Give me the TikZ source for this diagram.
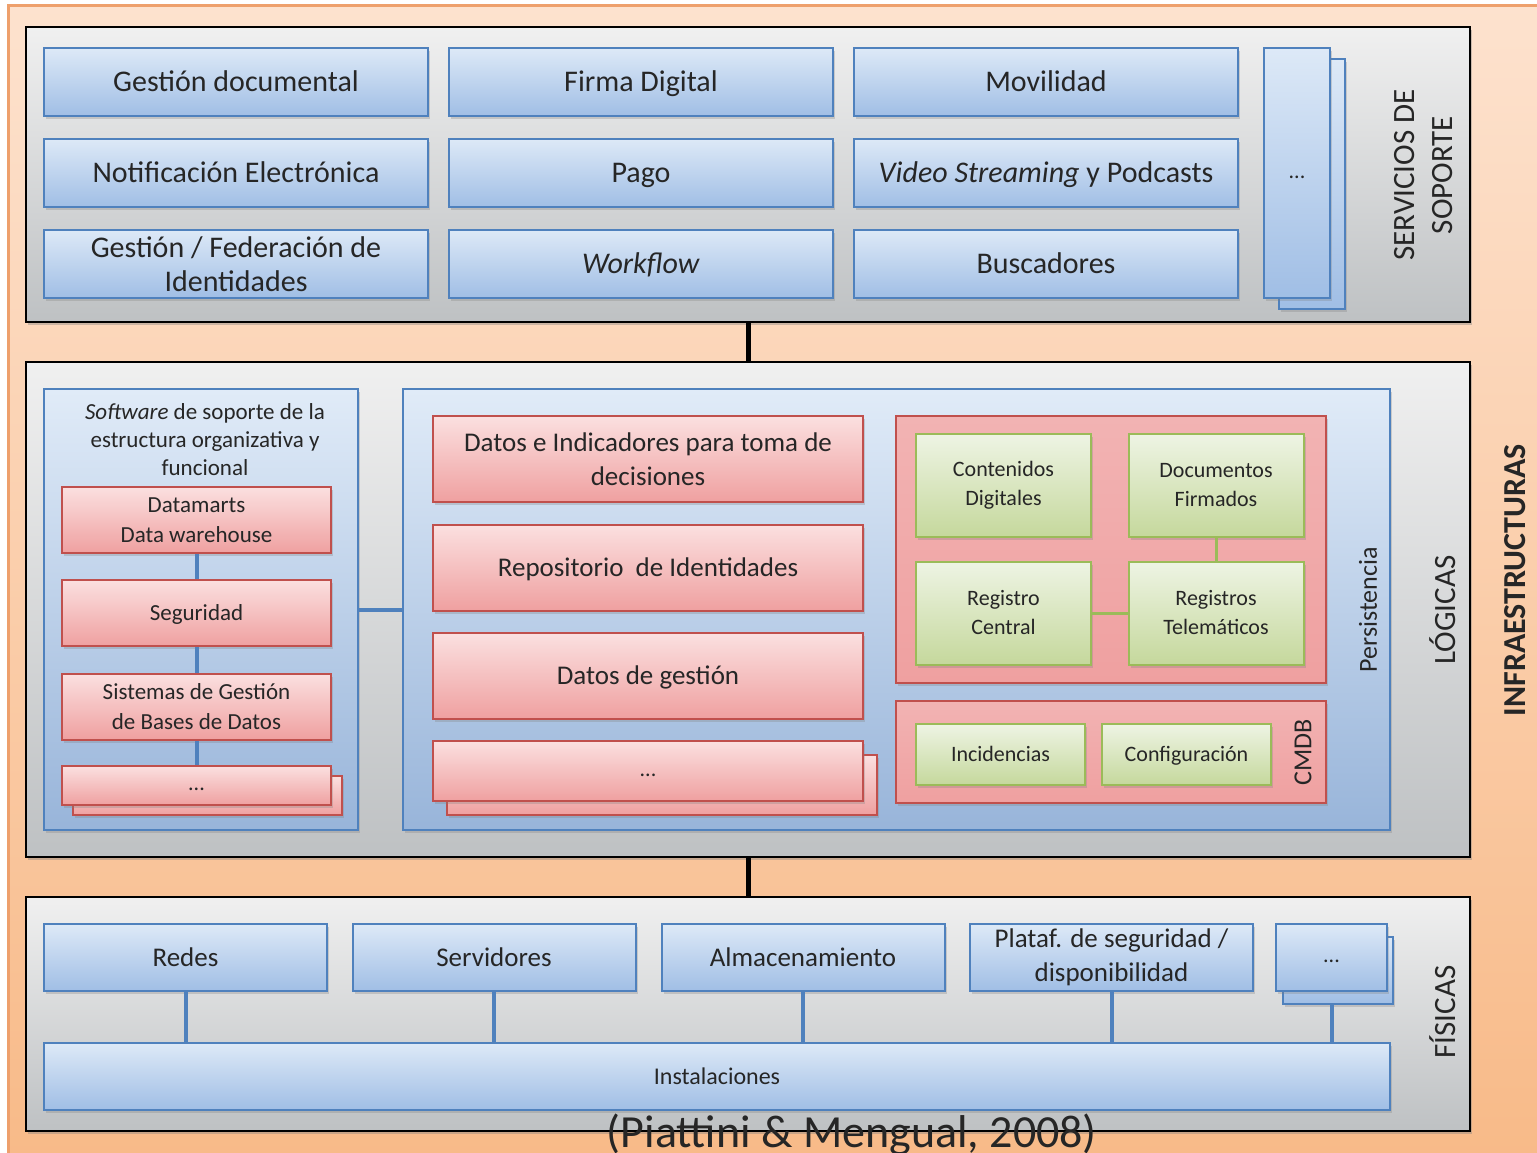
\documentclass[tikz,border=0pt]{standalone}
\usepackage{fontspec}
\setmainfont{Carlito}
\usepackage{tikz}
\usetikzlibrary{positioning, shadows, backgrounds}

\definecolor{orangetop}{RGB}{253,226,206}
\definecolor{orangebot}{RGB}{248,186,136}
\definecolor{orangeline}{RGB}{238,160,108}
\definecolor{graytop}{RGB}{240,240,240}
\definecolor{graybot}{RGB}{190,193,195}
\definecolor{bluetop}{RGB}{221,233,247}
\definecolor{bluebot}{RGB}{160,190,229}
\definecolor{blueline}{RGB}{79,129,189}
\definecolor{redtop}{RGB}{251,224,224}
\definecolor{redbot}{RGB}{239,160,160}
\definecolor{redline}{RGB}{192,80,77}
\definecolor{greentop}{RGB}{238,244,228}
\definecolor{greenbot}{RGB}{197,216,156}
\definecolor{greenline}{RGB}{155,187,89}

\tikzset{
layer frame/.style = { rectangle, draw = black, line width = 1pt, top color = graytop, bottom color = graybot, inner sep = 0pt, drop shadow = {shadow xshift = 1pt, shadow yshift = -1.5pt, opacity = 0.4} },
blue box/.style = { rectangle, draw = blueline, line width = 1pt, top color = bluetop, bottom color = bluebot, align = center, text = black!85, inner sep = 2pt, font = \fontsize{15}{17}\selectfont, drop shadow = {shadow xshift = 1pt, shadow yshift = -1.5pt, opacity = 0.3} },
blue panel/.style = { rectangle, draw = blueline, line width = 1pt, top color = bluetop!90!white, bottom color = bluebot!95!black, inner sep = 0pt, drop shadow = {shadow xshift = 1pt, shadow yshift = -1.5pt, opacity = 0.3} },
red box/.style = { rectangle, draw = redline, line width = 1pt, top color = redtop, bottom color = redbot, align = center, text = black!85, inner sep = 2pt, font = \fontsize{13.5}{17}\selectfont, drop shadow = {shadow xshift = 1pt, shadow yshift = -1.5pt, opacity = 0.3} },
red panel/.style = { rectangle, draw = redline, line width = 1pt, top color = redbot!80!white, bottom color = redbot, inner sep = 0pt, drop shadow = {shadow xshift = 1pt, shadow yshift = -1.5pt, opacity = 0.3} },
green box/.style = { rectangle, draw = greenline, line width = 1pt, top color = greentop, bottom color = greenbot, align = center, text = black!85, inner sep = 2pt, font = \fontsize{11}{14.5}\selectfont, drop shadow = {shadow xshift = 1pt, shadow yshift = -1.5pt, opacity = 0.3} },
two lines/.style = { text height = {}, text depth = {} },
side label/.style = { rotate = 90, align = center, text = black!85, font = \fontsize{15.5}{19}\selectfont },
layer link/.style = { draw = black, line width = 2.5pt },
blue link/.style = { draw = blueline, line width = 2pt },
green link/.style = { draw = greenline, line width = 1.5pt },
service size/.style = { minimum width = 192pt, minimum height = 34pt, text height = 12pt, text depth = 2.5pt },
left size/.style = { minimum width = 134.5pt, minimum height = 33pt, text height = 9.2pt, text depth = 2pt, font = \fontsize{11.5}{15}\selectfont },
mid size/.style = { minimum width = 215pt, minimum height = 43pt, text height = 10.8pt, text depth = 2.3pt },
store size/.style = { minimum width = 87.5pt, minimum height = 51.5pt },
cmdb size/.style = { minimum width = 84.5pt, minimum height = 30.5pt, text height = 8.8pt, text depth = 1.9pt },
phys size/.style = { minimum width = 141.5pt, minimum height = 33.5pt, text height = 10.8pt, text depth = 2.3pt, font = \fontsize{13.5}{17}\selectfont },
dots/.style = { text height = 6pt, text depth = 1pt, font = \fontsize{11}{13}\selectfont },
}

\begin{document}
\begin{tikzpicture}[x = 0.5pt, y = -0.5pt]
    \useasboundingbox (0, 0) rectangle (1537, 1152);
    \fill[white] (0, 0) rectangle (1537, 1152);
    \path[top color = orangetop, bottom color = orangebot, draw = orangeline, line width = 1.5pt] (8, 5) rectangle (1545, 1160);
    % capas
    \node[layer frame, minimum width = 722pt, minimum height = 147.5pt] (soporte) at (748, 174.5) {};
    \node[layer frame, minimum width = 722pt, minimum height = 247.5pt] (logicas) at (748, 609.5) {};
    \node[layer frame, minimum width = 722pt, minimum height = 117pt] (fisicas) at (748, 1014) {};
    \draw[layer link] (soporte.south) -- (logicas.north);
    \draw[layer link] (logicas.south) -- (fisicas.north);
    % servicios de soporte
    \node[blue box, service size] (gdoc) at (236, 82) {Gestión documental};
    \node[blue box, service size] (firma) at (641, 82) {Firma Digital};
    \node[blue box, service size] (movil) at (1046, 82) {Movilidad};
    \node[blue box, service size] (notif) at (236, 173) {Notificación Electrónica};
    \node[blue box, service size] (pago) at (641, 173) {Pago};
    \node[blue box, service size] (video) at (1046, 173) {\textit{Video Streaming} y Podcasts};
    \node[blue box, service size, two lines] (ident) at (236, 264) {Gestión / Federación de\\Identidades};
    \node[blue box, service size] (wflow) at (641, 264) {\textit{Workflow}};
    \node[blue box, service size] (busca) at (1046, 264) {Buscadores};
    \node[blue box, minimum width = 33pt, minimum height = 125pt] (sdots back) at (1312, 184) {};
    \node[blue box, dots, minimum width = 33pt, minimum height = 125pt] (sdots) at (1297, 173) {...};
    \node[side label] (lsop) at (1424, 175) {SERVICIOS DE\\SOPORTE};
    % logicas
    \node[blue panel, minimum width = 157pt, minimum height = 220.5pt] (softw) at (201, 609.5) {};
    \node[blue panel, minimum width = 493.5pt, minimum height = 220.5pt] (datos) at (896.5, 609.5) {};
    \draw[blue link] (softw.east) -- (datos.west);
    \node[align = center, text = black!85, font = \fontsize{11.5}{14}\selectfont] (softw title) at (205, 440) {\textit{Software} de soporte de la\\estructura organizativa y\\funcional};
    \node[red box, left size, two lines] (dwh) at (196.5, 520) {Datamarts\\Data warehouse};
    \node[red box, left size] (segur) at (196.5, 613) {Seguridad};
    \node[red box, left size, two lines] (sgbd) at (196.5, 706.5) {Sistemas de Gestión\\de Bases de Datos};
    \node[red box, left size, minimum height = 19.5pt] (ldots back) at (207.5, 795.5) {};
    \node[red box, left size, dots, minimum height = 19.5pt] (ldots) at (196.5, 785.5) {...};
    \draw[blue link] (dwh.south) -- (segur.north);
    \draw[blue link] (segur.south) -- (sgbd.north);
    \draw[blue link] (sgbd.south) -- (ldots.north);
    \node[red box, mid size, two lines] (dind) at (648, 459) {Datos e Indicadores para toma de\\decisiones};
    \node[red box, mid size] (repo) at (648, 567.5) {Repositorio~ de Identidades};
    \node[red box, mid size] (dges) at (648, 676) {Datos de gestión};
    \node[red box, mid size, minimum height = 30pt] (mdots back) at (662, 785) {};
    \node[red box, mid size, dots, minimum height = 30pt] (mdots) at (648, 771) {...};
    % persistencia
    \node[red panel, minimum width = 215pt, minimum height = 133.5pt] (persist) at (1111, 549.5) {};
    \node[green box, store size, two lines] (cont) at (1003.5, 485.5) {Contenidos\\Digitales};
    \node[green box, store size, two lines] (docf) at (1216, 485.5) {Documentos\\Firmados};
    \node[green box, store size, two lines] (rcen) at (1003.5, 613) {Registro\\Central};
    \node[green box, store size, two lines] (rtel) at (1216, 613) {Registros\\Telemáticos};
    \draw[green link] (docf.south) -- (rtel.north);
    \draw[green link] (rcen.east) -- (rtel.west);
    \node[side label, font = \fontsize{13}{16}\selectfont] (lpers) at (1368, 610) {Persistencia};
    \node[red panel, minimum width = 215pt, minimum height = 51pt] (cmdb) at (1111, 752) {};
    \node[green box, cmdb size] (incid) at (1000.5, 754.5) {Incidencias};
    \node[green box, cmdb size] (config) at (1186.5, 754.5) {Configuración};
    \node[side label, font = \fontsize{13}{16}\selectfont] (lcmdb) at (1303, 752) {CMDB};
    \node[side label] (llog) at (1443, 610) {LÓGICAS};
    % fisicas
    \node[blue box, phys size] (redes) at (185.5, 957.5) {Redes};
    \node[blue box, phys size] (serv) at (494, 957.5) {Servidores};
    \node[blue box, phys size] (almac) at (803, 957.5) {Almacenamiento};
    \node[blue box, phys size, two lines] (plataf) at (1111.5, 957.5) {Plataf. de seguridad /\\disponibilidad};
    \node[blue box, minimum width = 55pt, minimum height = 33.5pt] (pdots back) at (1337.5, 970) {};
    \node[blue box, dots, minimum width = 55.5pt, minimum height = 33.5pt] (pdots) at (1331.5, 957.5) {...};
    \node[blue box, minimum width = 673pt, minimum height = 33.5pt, text height = 9.6pt, text depth = 2pt, font = \fontsize{12}{14}\selectfont] (instal) at (717, 1076.5) {Instalaciones};
    \draw[blue link] (redes.south) -- (redes.south |- instal.north);
    \draw[blue link] (serv.south) -- (serv.south |- instal.north);
    \draw[blue link] (almac.south) -- (almac.south |- instal.north);
    \draw[blue link] (plataf.south) -- (plataf.south |- instal.north);
    \draw[blue link] (pdots.south |- pdots back.south) -- (pdots.south |- instal.north);
    \node[side label] (lfis) at (1443, 1012) {FÍSICAS};
    \node[side label, font = \fontsize{16}{19}\selectfont\bfseries] (linfra) at (1515, 580) {INFRAESTRUCTURAS};
    \node[anchor = base, text = black!85, font = \fontsize{23}{27}\selectfont] (fuente) at (852, 1147) {(Piattini \& Mengual, 2008)};
\end{tikzpicture}
\end{document}
